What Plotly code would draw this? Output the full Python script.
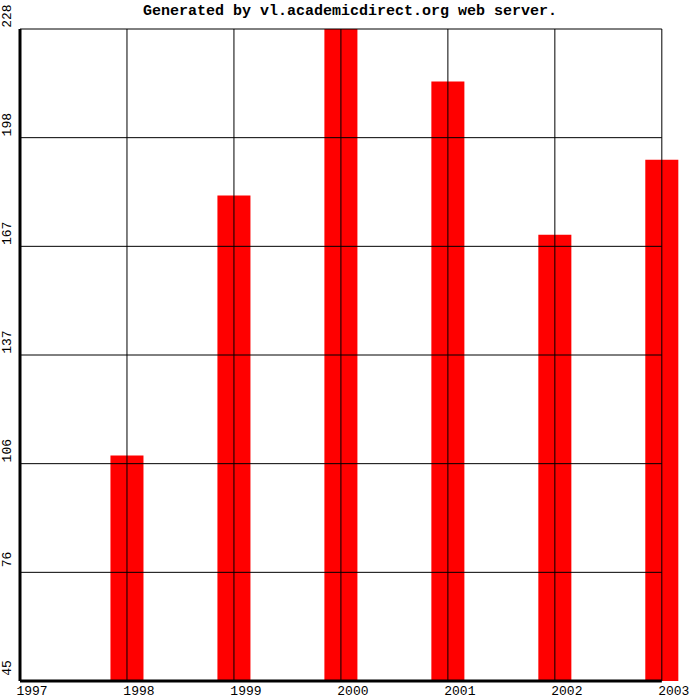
import plotly.graph_objects as go

# ---- data ----
years = [1997, 1998, 1999, 2000, 2001, 2002, 2003]
values = [45, 108, 181, 228, 213, 170, 191]
year_labels = ["1997", "1998", "1999", "2000", "2001", "2002", "2003"]
y_tick_vals = [45, 75.5, 106, 136.5, 167, 197.5, 228]
y_tick_text = ["45", "76", "106", "137", "167", "198", "228"]
title_text = "Generated by vl.academicdirect.org web server."

y_min = min(values)
y_max = max(values)
x_min = min(years)
x_max = max(years)
bar_width = 0.29
x_pad = 0.17  # room on the right so the last bar is not clipped

MONO = "Liberation Mono, Courier New, monospace"

fig = go.Figure()
fig.add_trace(go.Bar(
    x=years,
    y=[v - y_min for v in values],
    base=y_min,
    width=bar_width,
    marker=dict(color="#ff0000", line=dict(color="#ff0000", width=2)),
    hoverinfo="skip",
))

# zero-height bars (value at the axis minimum) still show as a thin red line
for yr, v in zip(years, values):
    if v == y_min:
        fig.add_trace(go.Scatter(
            x=[yr - bar_width / 2 - 0.02, yr + bar_width / 2], y=[v, v],
            mode="lines", line=dict(color="#ff0000", width=2),
            cliponaxis=False, hoverinfo="skip",
        ))

shapes = []
# horizontal grid lines (drawn above bars)
for tv in y_tick_vals:
    if tv == y_max:
        shapes.append(dict(type="line", xref="x", yref="y domain", x0=x_min, x1=x_max, y0=1, y1=1,
                           line=dict(color="black", width=1), layer="above"))
    else:
        shapes.append(dict(type="line", xref="x", yref="y", x0=x_min, x1=x_max, y0=tv, y1=tv,
                           line=dict(color="black", width=1), layer="above"))
# vertical grid lines
for yr in years[1:]:
    shapes.append(dict(type="line", xref="x", yref="y domain", x0=yr, x1=yr, y0=0, y1=1,
                       line=dict(color="black", width=1), layer="above"))
# thick axes
shapes.append(dict(type="line", xref="x domain", yref="y domain", x0=0, x1=0, y0=0, y1=1,
                   line=dict(color="black", width=3), layer="above"))
shapes.append(dict(type="line", xref="x", yref="y domain", x0=x_min, x1=x_max, y0=0, y1=0,
                   line=dict(color="black", width=3), layer="above"))

fig.update_layout(
    width=700, height=700,
    margin=dict(l=20, r=20, t=29, b=19),
    paper_bgcolor="white", plot_bgcolor="white",
    showlegend=False,
    title=dict(text=title_text, x=0.5, xanchor="center", xref="container",
               y=1 - 9.5 / 700, yanchor="middle", yref="container", automargin=False,
               font=dict(family=MONO, size=15, color="black", weight="bold")),
    shapes=shapes,
    xaxis=dict(range=[x_min, x_max + x_pad], showgrid=False, zeroline=False, showline=False,
               automargin=False,
               tickmode="array", tickvals=years, ticktext=year_labels, ticks="",
               tickfont=dict(family=MONO, size=13, color="black"),
               ticklabelshift=12),
    yaxis=dict(range=[y_min, y_max], showgrid=False, zeroline=False, showline=False,
               automargin=False,
               tickmode="array", tickvals=y_tick_vals, ticktext=y_tick_text, ticks="",
               tickangle=-90,
               tickfont=dict(family=MONO, size=13, color="black"),
               ticklabelshift=-11, ticklabelstandoff=5),
)

fig.write_html("out.html", config={"displayModeBar": False},
               post_script="document.body.style.margin='0';")
